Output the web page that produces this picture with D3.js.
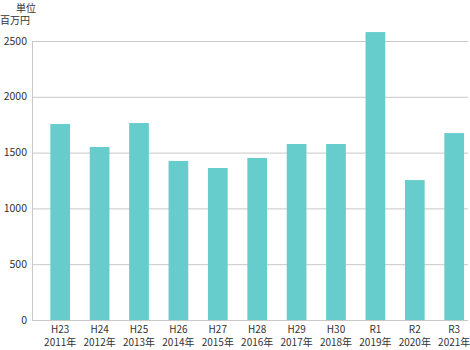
<!DOCTYPE html>
<html><head><meta charset="utf-8">
<script src="https://cdn.jsdelivr.net/npm/d3@7"></script>
<style>
body{margin:0;background:#fff;}
text{font-family:"Noto Sans CJK JP","Noto Sans",sans-serif;fill:#333;}
</style></head>
<body><svg id="c" width="470" height="350"></svg>
<script>
const eras = ["H23","H24","H25","H26","H27","H28","H29","H30","R1","R2","R3"];
const years = ["2011年","2012年","2013年","2014年","2015年","2016年","2017年","2018年","2019年","2020年","2021年"];
const values = [1756,1550,1765,1425,1362,1452,1577,1577,2580,1254,1675];
const yTicks = [0,500,1000,1500,2000,2500];

const svg = d3.select("#c");
const x0 = 32, x1 = 468, yTop = 41, yBot = 320;
const x = d3.scaleBand().domain(eras).range([40.5, 473.9]).paddingInner(0.5).paddingOuter(0.25);
const y = d3.scaleLinear().domain([0,2500]).range([yBot, yTop]);

svg.append("g").selectAll("line").data(yTicks).join("line")
  .attr("x1", x0).attr("x2", x1)
  .attr("y1", d=>y(d)+0.5).attr("y2", d=>y(d)+0.5)
  .attr("stroke", "#c8c8c8").attr("stroke-width", 1);
svg.append("line").attr("x1", x0+0.5).attr("x2", x0+0.5).attr("y1", yTop).attr("y2", yBot+1)
  .attr("stroke", "#c8c8c8");

svg.append("g").selectAll("rect").data(values).join("rect")
  .attr("x", (d,i)=>x(eras[i])).attr("width", x.bandwidth())
  .attr("y", d=>y(d)).attr("height", d=>yBot-y(d))
  .attr("fill", "#66cccc");

svg.append("g").selectAll("text").data(yTicks).join("text")
  .attr("x", 27).attr("y", d=>y(d)).attr("dy", "0.35em")
  .attr("text-anchor", "end").attr("font-size", 10.5).text(d=>d);

const g1 = svg.append("g");
g1.selectAll("text.era").data(eras).join("text").attr("class","era")
  .attr("text-anchor", "middle").attr("font-size", 10)
  .attr("x", d=>x(d)+x.bandwidth()/2).attr("y", 333).text(d=>d);
g1.selectAll("text.yr").data(eras).join("text").attr("class","yr")
  .attr("text-anchor", "middle").attr("font-size", 10)
  .attr("x", d=>x(d)+x.bandwidth()/2).attr("y", 346).text((d,i)=>years[i]);

svg.append("text").attr("x", 26).attr("y", 12).attr("text-anchor","middle").attr("font-size", 10).text("単位");
svg.append("text").attr("x", 15).attr("y", 24).attr("text-anchor","middle").attr("font-size", 10).text("百万円");
</script></body></html>
